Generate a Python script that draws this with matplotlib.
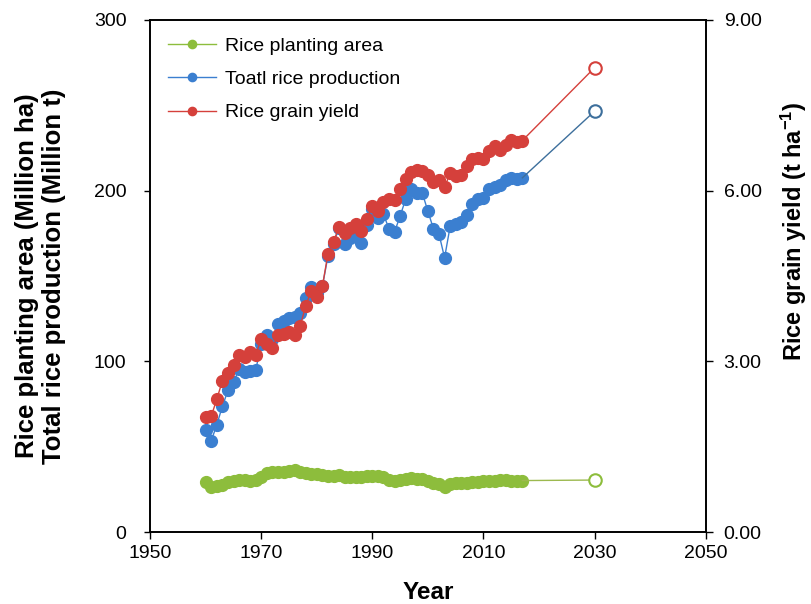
import matplotlib.pyplot as plt
import numpy as np

plt.rcParams['font.family'] = ['Liberation Sans', 'DejaVu Sans']
plt.rcParams['mathtext.default'] = 'regular'

# 年份
years = list(range(1960, 2018))
# 水稻种植面积 (Million ha)
area = [29.6, 26.3, 26.9, 27.7, 29.6, 29.8, 30.5, 30.4, 29.9, 30.4,
        32.4, 34.9, 35.1, 35.1, 35.5, 35.7, 36.2, 35.5, 34.4, 33.9,
        33.9, 33.3, 33.1, 33.1, 33.2, 32.1, 32.3, 32.2, 32.0, 32.7,
        33.1, 32.6, 32.1, 30.4, 30.2, 30.7, 31.4, 31.8, 31.2, 31.3,
        30.0, 28.8, 28.2, 26.5, 28.4, 28.8, 28.9, 28.9, 29.2, 29.6,
        29.9, 30.1, 30.1, 30.3, 30.3, 30.2, 30.2, 30.2]
# 水稻总产量 (Million t)
production = [59.7, 53.6, 63.0, 73.8, 83.0, 87.7, 95.4, 93.7, 94.5, 95.1,
              110.0, 115.2, 113.4, 121.7, 123.9, 125.6, 125.8, 128.6, 136.9, 143.8,
              139.9, 144.0, 161.6, 168.9, 178.3, 168.6, 172.2, 174.3, 169.1, 180.1,
              189.3, 183.8, 186.2, 177.5, 175.9, 185.2, 195.1, 200.7, 198.7, 198.5,
              187.9, 177.6, 174.5, 160.7, 179.1, 180.6, 181.7, 186.0, 191.9, 195.1,
              195.8, 201.0, 202.4, 203.6, 206.5, 207.5, 207.1, 207.5]
# 水稻单产 (t/ha)
yield_ = [2.02, 2.04, 2.34, 2.66, 2.80, 2.94, 3.12, 3.08, 3.16, 3.12,
          3.40, 3.30, 3.23, 3.47, 3.49, 3.51, 3.47, 3.62, 3.98, 4.24,
          4.13, 4.32, 4.89, 5.10, 5.37, 5.26, 5.34, 5.41, 5.29, 5.51,
          5.73, 5.64, 5.80, 5.85, 5.83, 6.03, 6.21, 6.32, 6.37, 6.35,
          6.27, 6.16, 6.19, 6.06, 6.31, 6.26, 6.28, 6.43, 6.56, 6.58,
          6.55, 6.69, 6.78, 6.72, 6.81, 6.89, 6.86, 6.88]

# 2030年预测值
proj_year = 2030
proj_area = 30.5
proj_production = 246.5
proj_yield = 8.16

green = '#8dbd3c'
blue = '#3b7fd0'
red = '#d5403b'

fig = plt.figure(figsize=(8.12, 6.04), dpi=100)
ax = fig.add_axes([0.185, 0.119, 0.684, 0.848])
ax2 = ax.twinx()

ms = 8.5
# 面积
ax.plot(years, area, color=green, marker='o', markersize=ms, lw=1,
        label='Rice planting area')
ax.plot([years[-1], proj_year], [area[-1], proj_area], color='#9cb94f', lw=1,
        marker='o', markevery=[1], markersize=9, mfc='white', mec=green, mew=1.5)
# 产量
ax.plot(years, production, color=blue, marker='o', markersize=ms, lw=1,
        label='Toatl rice production')
ax.plot([years[-1], proj_year], [production[-1], proj_production], color='#3d6f9c', lw=1,
        marker='o', markevery=[1], markersize=9, mfc='white', mec='#3d6f9c', mew=1.5)
# 单产
ax2.plot(years, yield_, color=red, marker='o', markersize=ms, lw=1,
         label='Rice grain yield')
ax2.plot([years[-1], proj_year], [yield_[-1], proj_yield], color=red, lw=1,
         marker='o', markevery=[1], markersize=9, mfc='white', mec=red, mew=1.5)

ax.set_xlim(1950, 2050)
ax.set_ylim(0, 300)
ax2.set_ylim(0, 9)
ax.set_xticks([1950, 1970, 1990, 2010, 2030, 2050])
ax.set_yticks([0, 100, 200, 300])
ax2.set_yticks([0, 3, 6, 9])
ax2.set_yticklabels(['0.00', '3.00', '6.00', '9.00'])

ax.tick_params(axis='x', direction='out', length=5, width=1, labelsize=14, pad=4)
ax.tick_params(axis='y', direction='out', length=4, width=1, labelsize=14, pad=13)
ax2.tick_params(axis='y', direction='out', length=5, width=1, labelsize=14, pad=8)
for sp in list(ax.spines.values()) + list(ax2.spines.values()):
    sp.set_linewidth(1.2)

ax.set_xlabel('Year', fontsize=17.5, fontweight='bold', labelpad=14)
ax.set_ylabel('Rice planting area (Million ha)\nTotal rice production (Million t)',
              fontsize=18.5, fontweight='bold', linespacing=1.15, labelpad=20)
ax2.set_ylabel(r'Rice grain yield (t ha$^{-1}$)', fontsize=17, fontweight='bold')
# 右侧标签位置偏上
ax2.yaxis.set_label_coords(1.132, 0.588)

# 图例
h1, l1 = ax.get_legend_handles_labels()
h2, l2 = ax2.get_legend_handles_labels()
ax.legend(h1 + h2, l1 + l2, loc='upper left', frameon=False, fontsize=14,
          handlelength=2.5, labelspacing=0.8, handletextpad=0.45,
          borderaxespad=0.5, markerscale=0.7)

plt.savefig('out.png', dpi=100)
